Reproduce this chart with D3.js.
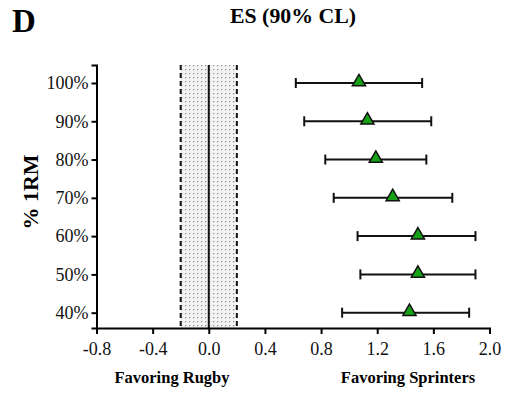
<!DOCTYPE html>
<html>
<head>
<meta charset="utf-8">
<script src="https://cdn.jsdelivr.net/npm/d3@7"></script>
<style>
  body { margin: 0; background: #fff; }
  svg text { font-family: "Liberation Serif", "Times New Roman", serif; }
</style>
</head>
<body>
<svg id="chart" width="508" height="401"></svg>
<script>
// % 1RM loads and effect sizes (90% CL)
const loads = [100, 90, 80, 70, 60, 50, 40];
const es = [1.07, 1.13, 1.19, 1.31, 1.49, 1.49, 1.43];
const lower = [0.62, 0.68, 0.83, 0.89, 1.06, 1.08, 0.95];
const upper = [1.52, 1.585, 1.55, 1.735, 1.90, 1.90, 1.855];
const xTicks = [-0.8, -0.4, 0.0, 0.4, 0.8, 1.2, 1.6, 2.0];
const trivial = [-0.2, 0.2];

var svg = d3.select("#chart");

var x = d3.scaleLinear().domain([-0.8, 2.0]).range([96.5, 489.5]);
var y = d3.scaleLinear().domain([36, 104.7]).range([328, 65]);

// trivial zone with dot pattern
var defs = svg.append("defs");
var pat = defs.append("pattern")
    .attr("id", "dots")
    .attr("patternUnits", "userSpaceOnUse")
    .attr("width", 4)
    .attr("height", 4);
pat.append("rect").attr("width", 4).attr("height", 4).attr("fill", "#f3f3f3");
pat.append("rect").attr("x", 1).attr("y", 1).attr("width", 1.2).attr("height", 1.2).attr("fill", "#8a8a8a");

svg.append("rect")
    .attr("x", x(trivial[0]))
    .attr("y", y.range()[1])
    .attr("width", x(trivial[1]) - x(trivial[0]))
    .attr("height", y.range()[0] - y.range()[1])
    .attr("fill", "url(#dots)");

trivial.forEach(function(v) {
  svg.append("line")
      .attr("x1", x(v)).attr("x2", x(v))
      .attr("y1", y.range()[1]).attr("y2", y.range()[0])
      .attr("stroke", "#111")
      .attr("stroke-width", 2)
      .attr("stroke-dasharray", "5,3");
});

svg.append("line")
    .attr("x1", x(0)).attr("x2", x(0))
    .attr("y1", y.range()[1]).attr("y2", y.range()[0])
    .attr("stroke", "#111")
    .attr("stroke-width", 2);

// axes
var xAxis = svg.append("g")
    .attr("transform", "translate(0," + y.range()[0] + ")")
    .call(d3.axisBottom(x).tickValues(xTicks).tickFormat(d3.format(".1f")).tickSizeOuter(0).tickSize(6));
xAxis.select(".domain").attr("stroke-width", 2);
xAxis.selectAll(".tick line").attr("stroke-width", 2);
xAxis.selectAll("text")
    .attr("font-size", 18)
    .attr("fill", "#111")
    .attr("dy", "1em")
    .text(function(d) { return d3.format(".1f")(d).replace("−", "-"); });

var yAxis = svg.append("g")
    .attr("transform", "translate(" + x.range()[0] + ",0)")
    .call(d3.axisLeft(y).tickValues(loads).tickFormat(function(d) { return d + "%"; }).tickSizeOuter(0).tickSize(5));
yAxis.select(".domain").attr("stroke-width", 2);
yAxis.selectAll(".tick line").attr("stroke-width", 2);
yAxis.selectAll("text")
    .attr("font-size", 18)
    .attr("fill", "#111")
    .attr("x", -8);

// error bars
var g = svg.append("g");
loads.forEach(function(l, i) {
  var yy = y(l);
  g.append("line")
      .attr("x1", x(lower[i])).attr("x2", x(upper[i]))
      .attr("y1", yy).attr("y2", yy)
      .attr("stroke", "#111").attr("stroke-width", 2);
  [lower[i], upper[i]].forEach(function(v) {
    g.append("line")
        .attr("x1", x(v)).attr("x2", x(v))
        .attr("y1", yy - 5).attr("y2", yy + 5)
        .attr("stroke", "#111").attr("stroke-width", 2);
  });
  g.append("path")
      .attr("d", d3.symbol().type(d3.symbolTriangle).size(75)())
      .attr("transform", "translate(" + x(es[i]) + "," + (yy - 1) + ")")
      .attr("fill", "#17a117")
      .attr("stroke", "#111")
      .attr("stroke-width", 1.5);
});

// text
svg.append("text")
    .attr("x", 12).attr("y", 32)
    .attr("font-size", 33).attr("font-weight", "bold")
    .text("D");

svg.append("text")
    .attr("x", 230).attr("y", 23)
    .attr("font-size", 21).attr("font-weight", "bold")
    .attr("textLength", 126)
    .attr("lengthAdjust", "spacingAndGlyphs")
    .text("ES (90% CL)");

svg.append("text")
    .attr("transform", "translate(38,192) rotate(-90)")
    .attr("text-anchor", "middle")
    .attr("font-size", 22).attr("font-weight", "bold")
    .text("% 1RM");

svg.append("text")
    .attr("x", 172).attr("y", 383)
    .attr("text-anchor", "middle")
    .attr("font-size", 16.5).attr("font-weight", "bold")
    .text("Favoring Rugby");

svg.append("text")
    .attr("x", 408).attr("y", 383)
    .attr("text-anchor", "middle")
    .attr("font-size", 16.5).attr("font-weight", "bold")
    .text("Favoring Sprinters");
</script>
</body>
</html>
